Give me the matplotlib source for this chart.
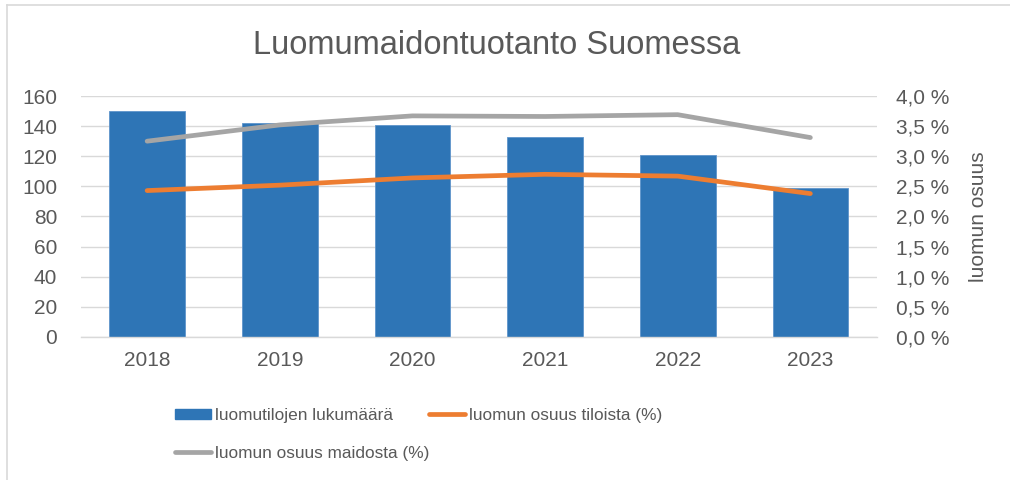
import matplotlib
matplotlib.use("Agg")
import matplotlib.pyplot as plt
from matplotlib.ticker import FuncFormatter, MultipleLocator
from matplotlib.lines import Line2D
from matplotlib.patches import Patch

plt.rcParams['font.family'] = ['Liberation Sans', 'DejaVu Sans']

years = ['2018', '2019', '2020', '2021', '2022', '2023']
farms = [150, 142, 141, 133, 121, 99]
share_farms = [2.43, 2.52, 2.64, 2.70, 2.67, 2.38]
share_milk = [3.25, 3.52, 3.67, 3.66, 3.69, 3.31]

label_bar = 'luomutilojen lukumäärä'
label_farms = 'luomun osuus tiloista (%)'
label_milk = 'luomun osuus maidosta (%)'
title = 'Luomumaidontuotanto Suomessa'
right_label = 'luomun osuus'

BLUE = '#2E75B6'
ORANGE = '#ED7D31'
GRAY = '#A5A5A5'
TXT = '#595959'
GRID = '#D9D9D9'

fig = plt.figure(figsize=(10.1, 4.8), dpi=100)
ax = fig.add_axes([0.080, 0.298, 0.788, 0.502])
x = list(range(len(years)))
ax.bar(x, farms, width=0.57, color=BLUE, edgecolor='#5E94CB', linewidth=0.6, zorder=2)
ax.set_xlim(-0.5, len(years) - 0.5)
ax.set_ylim(0, 160)
ax.yaxis.set_major_locator(MultipleLocator(20))
ax.set_xticks(x)
ax.set_xticklabels(years)
ax.grid(axis='y', color=GRID, linewidth=1.0, zorder=0)
ax.set_axisbelow(True)
for s in ['top', 'right', 'left']:
    ax.spines[s].set_visible(False)
ax.spines['bottom'].set_color(GRID)
ax.spines['bottom'].set_linewidth(1.0)
ax.tick_params(axis='both', length=0, labelsize=15, colors=TXT)
ax.tick_params(axis='y', pad=17)
ax.tick_params(axis='x', pad=10)

ax2 = ax.twinx()
ax2.plot(x, share_farms, color=ORANGE, linewidth=3.4, solid_capstyle='round', solid_joinstyle='round')
ax2.plot(x, share_milk, color=GRAY, linewidth=3.4, solid_capstyle='round', solid_joinstyle='round')
ax2.set_ylim(0, 4.0)
ax2.yaxis.set_major_locator(MultipleLocator(0.5))
ax2.yaxis.set_major_formatter(FuncFormatter(lambda v, p: f'{v:.1f}'.replace('.', ',') + ' %'))
for s in ['top', 'right', 'left', 'bottom']:
    ax2.spines[s].set_visible(False)
ax2.tick_params(axis='y', length=0, labelsize=15, colors=TXT, pad=14)
ax2.set_ylabel(right_label, rotation=90, fontsize=15, color=TXT, labelpad=14)

fig.text(0.492, 0.905, title, ha='center', va='center', fontsize=23.5, color=TXT)

handles = [Patch(facecolor=BLUE, edgecolor=BLUE),
           Line2D([0], [0], color=GRAY, linewidth=3.4, solid_capstyle='round'),
           Line2D([0], [0], color=ORANGE, linewidth=3.4, solid_capstyle='round')]
labels = [label_bar, label_milk, label_farms]
lprop = {'family': 'Liberation Sans', 'size': 12.4}
fs = lprop['size'] * 100 / 72.0
leg = fig.legend(handles, labels, ncol=2, loc='upper left', bbox_to_anchor=(0.173, 0.150),
                 frameon=False, prop=lprop, handlelength=36 / fs, handleheight=10 / fs,
                 handletextpad=4 / fs, columnspacing=0.0, labelspacing=23 / fs,
                 borderaxespad=0, borderpad=0)
for t in leg.get_texts():
    t.set_color(TXT)

# chart area border (partially visible)
fig.add_artist(Line2D([7/1010, 7/1010], [0, 1 - 5/480], transform=fig.transFigure, color=GRID, linewidth=1.2))
fig.add_artist(Line2D([7/1010, 1], [1 - 5/480, 1 - 5/480], transform=fig.transFigure, color=GRID, linewidth=1.2))

fig.savefig('out.png', dpi=100, facecolor='white')
